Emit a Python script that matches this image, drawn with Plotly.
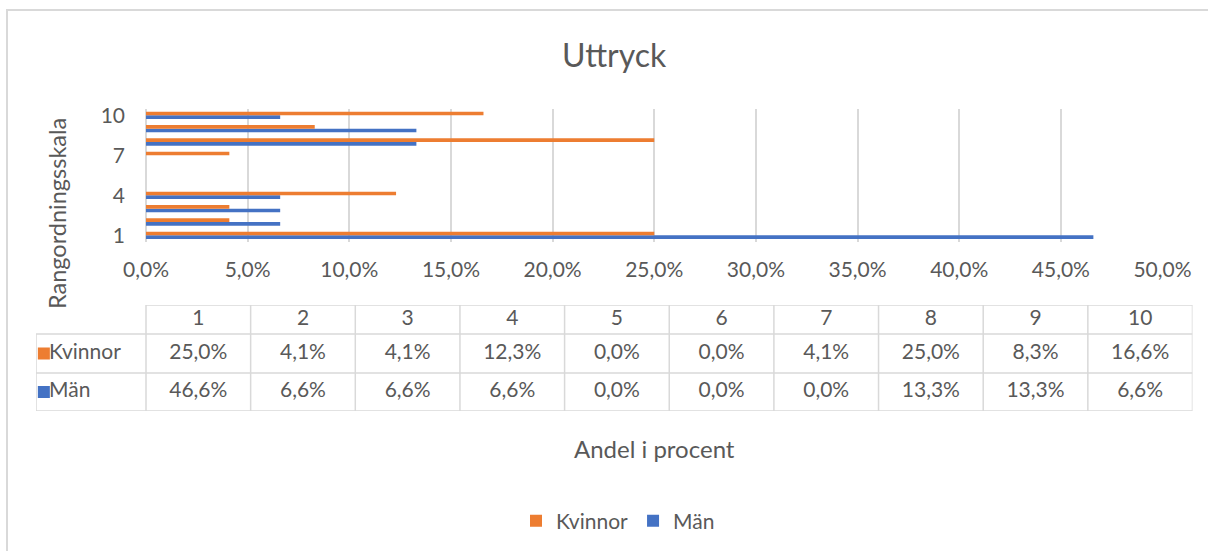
import plotly.graph_objects as go

# ---------------- data ----------------
categories = [1, 2, 3, 4, 5, 6, 7, 8, 9, 10]
kvinnor = [25.0, 4.1, 4.1, 12.3, 0.0, 0.0, 4.1, 25.0, 8.3, 16.6]
man = [46.6, 6.6, 6.6, 6.6, 0.0, 0.0, 0.0, 13.3, 13.3, 6.6]
series_names = ["Kvinnor", "Män"]
x_tick_values = [0, 5, 10, 15, 20, 25, 30, 35, 40, 45, 50]
y_tick_values = [1, 4, 7, 10]
chart_title = "Uttryck"
x_title = "Andel i procent"
y_title = "Rangordningsskala"

# ---------------- styles / layout constants ----------------
ORANGE = "#ED7D31"
BLUE = "#4472C4"
GRID = "#D9D9D9"
TEXT = "#595959"
FONT = "Lato"
SMALL = 21
W, H = 1208, 551


def px(x):
    return x / W


def py(y):
    return 1 - y / H


def frac(values):
    return [v / 100 for v in values]


FIRST_COL_LEFT = -0.5511
ROW_EDGES = [0, 29, 68, 106]
ROW_CENTERS = [(ROW_EDGES[i] + ROW_EDGES[i + 1]) / 2 for i in range(3)]


def fmt(v):
    return f"{v:.1f}%".replace(".", ",")


fig = go.Figure()
# bars (Män first so Kvinnor sits above it within each group)
fig.add_trace(go.Bar(
    y=categories, x=frac(man), orientation="h", name=series_names[1],
    marker=dict(color=BLUE, line=dict(width=0)), legendrank=2, xaxis="x", yaxis="y"))
fig.add_trace(go.Bar(
    y=categories, x=frac(kvinnor), orientation="h", name=series_names[0],
    marker=dict(color=ORANGE, line=dict(width=0)), legendrank=1, xaxis="x", yaxis="y"))

# data table
tfont = dict(family=FONT, size=SMALL, color=TEXT)
for rc, texts in zip(ROW_CENTERS, [[str(c) for c in categories],
                                   [fmt(v) for v in kvinnor],
                                   [fmt(v) for v in man]]):
    fig.add_trace(go.Scatter(
        x=categories, y=[rc] * len(categories), mode="text", text=texts,
        textposition="middle center", textfont=tfont, xaxis="x2", yaxis="y2",
        showlegend=False, hoverinfo="skip"))
key_x = FIRST_COL_LEFT + 0.075
label_x = FIRST_COL_LEFT + 0.125
fig.add_trace(go.Scatter(
    x=[key_x, key_x], y=[ROW_CENTERS[1], ROW_CENTERS[2]], mode="markers",
    marker=dict(symbol="square", size=12, color=[ORANGE, BLUE], line=dict(width=0)),
    xaxis="x2", yaxis="y2", showlegend=False, hoverinfo="skip"))
fig.add_trace(go.Scatter(
    x=[label_x, label_x], y=[ROW_CENTERS[1], ROW_CENTERS[2]], mode="text",
    text=series_names, textposition="middle right", textfont=tfont,
    xaxis="x2", yaxis="y2", showlegend=False, hoverinfo="skip"))

# table borders
shapes = []
line = dict(color=GRID, width=1.5)
shapes.append(dict(type="line", xref="x2", yref="y2", x0=0.5, x1=10.5,
                   y0=ROW_EDGES[0], y1=ROW_EDGES[0], line=line))
for ye in ROW_EDGES[1:]:
    shapes.append(dict(type="line", xref="x2", yref="y2", x0=FIRST_COL_LEFT, x1=10.5,
                       y0=ye, y1=ye, line=line))
shapes.append(dict(type="line", xref="x2", yref="y2", x0=FIRST_COL_LEFT, x1=FIRST_COL_LEFT,
                   y0=ROW_EDGES[1], y1=ROW_EDGES[-1], line=line))
for k in range(len(categories) + 1):
    xe = 0.5 + k
    shapes.append(dict(type="line", xref="x2", yref="y2", x0=xe, x1=xe,
                       y0=ROW_EDGES[0], y1=ROW_EDGES[-1], line=line))
# chart area border: only its left and top edges fall inside the picture
border = dict(color=GRID, width=2)
shapes.append(dict(type="line", xref="paper", yref="paper", x0=px(7), x1=px(7),
                   y0=py(9), y1=0, line=border, layer="below"))
shapes.append(dict(type="line", xref="paper", yref="paper", x0=px(6), x1=1,
                   y0=py(10), y1=py(10), line=border, layer="below"))

annotations = [
    dict(text=chart_title, xref="paper", yref="paper", x=px(614.5), y=py(54.5),
         xanchor="center", yanchor="middle", showarrow=False,
         font=dict(family=FONT, size=32, color=TEXT)),
    dict(text=x_title, xref="paper", yref="paper", x=px(654), y=py(448.5),
         xanchor="center", yanchor="middle", showarrow=False,
         font=dict(family=FONT, size=24, color=TEXT)),
    dict(text=y_title, xref="paper", yref="paper", x=px(57), y=py(214),
         xanchor="center", yanchor="middle", showarrow=False, textangle=-90,
         font=dict(family=FONT, size=23.5, color=TEXT)),
]

fig.update_layout(
    width=W, height=H, autosize=False,
    margin=dict(l=0, r=0, t=0, b=0, pad=0, autoexpand=False),
    paper_bgcolor="white", plot_bgcolor="white",
    font=dict(family=FONT, color=TEXT, size=SMALL),
    separators=", ",
    barmode="group", bargap=0.45, bargroupgap=0,
    xaxis=dict(domain=[px(146), px(1162.5)], range=[0, 0.5], tickmode="array",
               tickvals=frac(x_tick_values), tickformat=".1%",
               showgrid=True, gridcolor=GRID, gridwidth=1.5,
               zeroline=True, zerolinecolor=GRID, zerolinewidth=1.5,
               showline=False, ticks="", ticklabelstandoff=13, automargin=False,
               tickfont=dict(family=FONT, size=SMALL, color=TEXT), anchor="y", fixedrange=True),
    yaxis=dict(domain=[py(242), py(108.7)], range=[0.5, 10.5], tickmode="array",
               tickvals=y_tick_values, showgrid=False, zeroline=False, showline=False,
               ticks="", ticklabelstandoff=20, automargin=False,
               tickfont=dict(family=FONT, size=SMALL, color=TEXT), anchor="x", fixedrange=True),
    xaxis2=dict(domain=[px(36), px(1192.5)], range=[FIRST_COL_LEFT, 10.5],
                visible=False, anchor="y2", fixedrange=True, automargin=False),
    yaxis2=dict(domain=[py(411), py(305)], range=[ROW_EDGES[-1], ROW_EDGES[0]],
                visible=False, anchor="x2", fixedrange=True, automargin=False),
    legend=dict(orientation="h", x=px(618), xanchor="center", y=py(521), yanchor="middle",
                font=dict(family=FONT, size=SMALL, color=TEXT), bgcolor="rgba(0,0,0,0)",
                itemclick=False, itemdoubleclick=False),
    shapes=shapes, annotations=annotations, showlegend=True,
)

fig.write_html("out.html", config={"displayModeBar": False},
               post_script="document.body.style.margin='0';document.body.style.overflow='hidden';")
